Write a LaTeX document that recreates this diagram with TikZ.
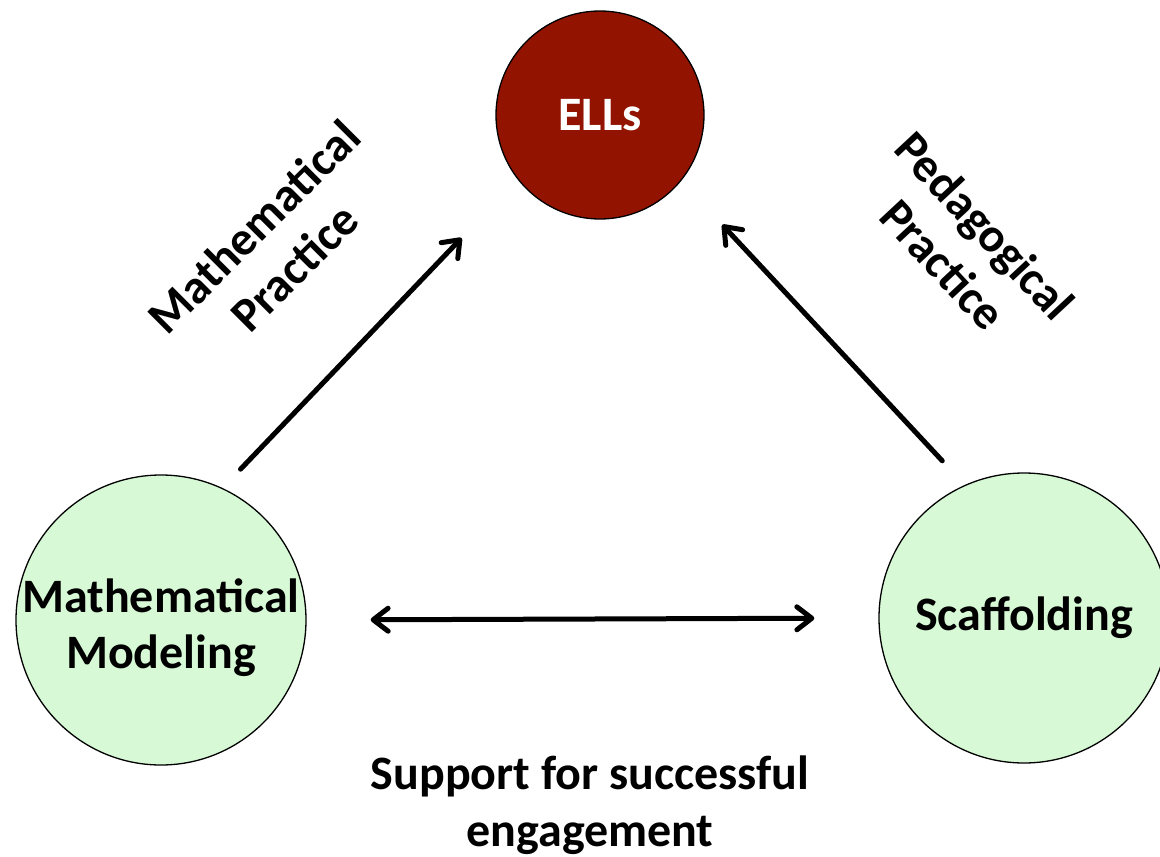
\documentclass[tikz,border=0pt]{standalone}
\usepackage{fontspec}
\setmainfont{Carlito}
\usetikzlibrary{arrows.meta}

\definecolor{ellred}{RGB}{146,20,0}
\definecolor{mintgreen}{RGB}{215,249,213}

\tikzset{
  bubble/.style={circle, draw=black, line width=1.3pt, inner sep=0pt,
    font=\fontsize{48}{56}\selectfont\bfseries, align=center},
  label text/.style={font=\fontsize{48}{57}\selectfont\bfseries, align=center},
  link/.style={line width=5pt, line cap=round, -{Straight Barb[length=15pt,width=23pt,round]}},
}

\begin{document}
\begin{tikzpicture}[x=1pt, y=-1pt]
  \useasboundingbox (0,0) rectangle (1160,857);

  \node[bubble, fill=ellred, text=white, minimum size=208pt] (ell) at (600,115) {ELLs};
  \node[bubble, fill=mintgreen, minimum size=290pt] (mm) at (161,620) {};
  \node[label text, font=\fontsize{48}{56}\selectfont\bfseries] (mmtext) at (161,628) {Mathematical\\Modeling};
  \node[bubble, fill=mintgreen, minimum size=290pt] (sc) at (1024,618) {Scaffolding};

  \node[label text, rotate=45] (mathprac) at (274,247) {Mathematical\\Practice};
  \node[label text, rotate=-47] (pedprac) at (964,245) {Pedagogical\\Practice};
  \node[label text] (support) at (590,805) {Support for successful\\engagement};

  \draw[link, shorten <=26pt, shorten >=81pt] (mm.65) -- (ell.218);
  \draw[link, shorten <=33pt, shorten >=60pt] (sc.114) -- (ell.-39);
  \draw[link, {Straight Barb[length=15pt,width=23pt,round]}-{Straight Barb[length=15pt,width=23pt,round]},
    shorten <=64pt, shorten >=64pt] (mm.east) -- (sc.west);
\end{tikzpicture}
\end{document}
